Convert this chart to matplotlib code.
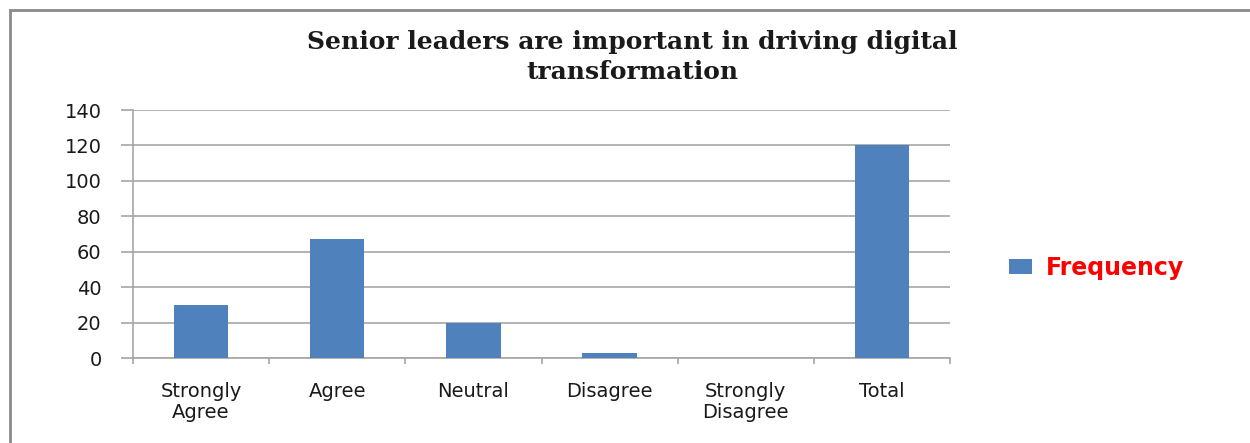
import matplotlib.pyplot as plt
from matplotlib.patches import Rectangle
import numpy as np

# chart data
categories = ["Strongly\nAgree", "Agree", "Neutral", "Disagree", "Strongly\nDisagree", "Total"]
frequency = [30, 67, 20, 3, 0, 120]
y_ticks = [0, 20, 40, 60, 80, 100, 120, 140]

W, H = 1250, 443
fig = plt.figure(figsize=(W / 100, H / 100), dpi=100)

# outer chart frame (right and bottom edges cut off in the source)
fig.patches.append(Rectangle((10 / W, -0.1), 1.2, (H - 10) / H + 0.1, transform=fig.transFigure,
                             fill=False, edgecolor="#8a8a8a", linewidth=2))

ax = fig.add_axes([133 / W, 1 - 358 / H, (950 - 133) / W, (358 - 110) / H])
x = np.arange(len(categories))
ax.bar(x, frequency, width=0.4, color="#4f81bd", label="Frequency", zorder=3)

ax.set_xlim(-0.5, len(categories) - 0.5)
ax.set_ylim(0, 140)
ax.set_yticks(y_ticks)
ax.set_yticklabels([str(v) for v in y_ticks], fontsize=14, fontfamily="DejaVu Sans", color="#1a1a1a")
ax.yaxis.grid(True, color="#a6a6a6", linewidth=1.2, zorder=0)

# category labels centred, ticks at category boundaries
ax.set_xticks(x)
ax.set_xticklabels(categories, fontsize=14, fontfamily="DejaVu Sans", linespacing=1.15, color="#1a1a1a")
ax.tick_params(axis="x", length=0, pad=17)
ax.set_xticks(np.arange(-0.5, len(categories), 1), minor=True)
ax.tick_params(axis="x", which="minor", length=4.5, color="#a6a6a6", width=1.2)
ax.tick_params(axis="y", length=8.5, color="#a6a6a6", width=1.2, pad=14)

for s in ["top", "right"]:
    ax.spines[s].set_visible(False)
for s in ["left", "bottom"]:
    ax.spines[s].set_color("#a6a6a6")
    ax.spines[s].set_linewidth(1.2)

fig.text(632 / W, 1 - 57 / H, "Senior leaders are important in driving digital\ntransformation",
         ha="center", va="center", fontsize=18, fontweight="bold", fontfamily="DejaVu Serif",
         linespacing=1.3, color="#1a1a1a")

leg = fig.legend(loc="center left", bbox_to_anchor=(988 / W, 1 - 268 / H), frameon=False,
                 handlelength=0.95, handleheight=0.6, handletextpad=0.6,
                 prop={"family": "DejaVu Sans", "weight": "bold", "size": 17})
for t in leg.get_texts():
    t.set_color("red")

fig.savefig("out.png", dpi=100)
